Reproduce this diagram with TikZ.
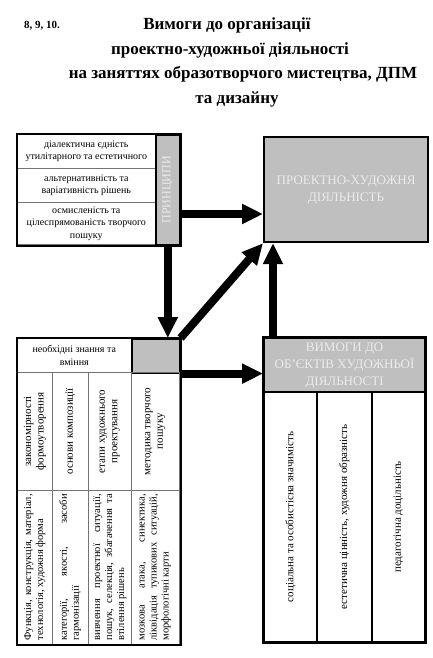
\documentclass[tikz,border=0pt]{standalone}
\usepackage{fontspec}
\setmainfont{Liberation Serif}
\usetikzlibrary{arrows.meta,fit,calc}
\begin{document}
\begin{tikzpicture}[x=1pt,y=-1pt,
  cell/.style={draw=black!55, line width=0.6pt, anchor=north west, inner sep=0pt, align=center, font=\fontsize{10}{12.5}\selectfont},
  graycell/.style={fill=black!25, draw=black, line width=1.6pt, anchor=north west, inner sep=0pt, align=center, text=white!92!black},
  frame/.style={draw=black, line width=2pt, inner sep=0pt},
  vtext/.style={rotate=90, align=center, font=\fontsize{11}{12.5}\selectfont, inner sep=0pt},
  jtext/.style={rotate=90, align=justify, text width=146pt, font=\fontsize{10.5}{12}\selectfont, inner sep=0pt},
  titlefont/.style={font=\bfseries\fontsize{17}{20}\selectfont, inner sep=0pt, anchor=base},
  bigarrow/.style={line width=8pt, -{Triangle[length=21pt,width=19pt]}},
]
\useasboundingbox (0,0) rectangle (433,658);

% title
\node[font=\bfseries\fontsize{11}{13}\selectfont, inner sep=0pt, anchor=base] (num) at (42,29) {8, 9, 10.};
\node[titlefont] (t1) at (227,30) {Вимоги до організації};
\node[titlefont] (t2) at (230,55) {проектно-художньої діяльності};
\node[titlefont] (t3) at (243,79) {на заняттях образотворчого мистецтва, ДПМ};
\node[titlefont] (t4) at (237,103) {та дизайну};

% principles
\node[cell, minimum width=138pt, minimum height=34pt] (p1) at (17,134) {діалектична єдність\\утилітарного та естетичного};
\node[cell, minimum width=138pt, minimum height=34pt] (p2) at (17,168) {альтернативність та\\варіативність рішень};
\node[cell, minimum width=138pt, minimum height=42pt] (p3) at (17,202) {осмисленість та\\цілеспрямованість творчого\\пошуку};
\node[graycell, minimum width=24pt, minimum height=110pt] (pg) at (155,134) {};
\node[rotate=90, text=white!92!black, font=\fontsize{12}{13}\selectfont] (pgt) at (pg.center) {ПРИНЦИПИ};
\node[frame, fit=(p1)(p3)(pg)] (pbox) {};

% project activity
\node[graycell, line width=2.2pt, minimum width=164pt, minimum height=105pt, font=\fontsize{13}{17}\selectfont] (pr) at (263,136) {ПРОЕКТНО-ХУДОЖНЯ\\ДІЯЛЬНІСТЬ};

% knowledge table
\node[cell, minimum width=114pt, minimum height=34pt] (k0) at (17,338) {необхідні знання та\\вміння};
\node[graycell, minimum width=48pt, minimum height=34pt] (kg) at (131,338) {};
\node[cell, minimum width=35pt, minimum height=118pt] (k1a) at (17,372) {};
\node[cell, minimum width=36pt, minimum height=118pt] (k2a) at (52,372) {};
\node[cell, minimum width=43pt, minimum height=118pt] (k3a) at (88,372) {};
\node[cell, minimum width=48pt, minimum height=118pt] (k4a) at (131,372) {};
\node[cell, minimum width=35pt, minimum height=154pt] (k1b) at (17,490) {};
\node[cell, minimum width=36pt, minimum height=154pt] (k2b) at (52,490) {};
\node[cell, minimum width=43pt, minimum height=154pt] (k3b) at (88,490) {};
\node[cell, minimum width=48pt, minimum height=154pt] (k4b) at (131,490) {};
\node[vtext] (k1at) at (k1a.center) {закономірності\\формоутворення};
\node[vtext] (k2at) at (k2a.center) {основи композиції};
\node[vtext] (k3at) at (k3a.center) {етапи художнього\\проектування};
\node[vtext] (k4at) at (k4a.center) {методика творчого\\пошуку};
\node[jtext] (k1bt) at (k1b.center) {Функція, конструкція, матеріал,\linebreak технологія, художня форма};
\node[jtext] (k2bt) at (k2b.center) {категорії, якості, засоби\linebreak гармонізації};
\node[jtext] (k3bt) at (k3b.center) {вивчення проектної ситуації,\linebreak пошук, селекція, збагачення та\linebreak втілення рішень};
\node[jtext] (k4bt) at (k4b.center) {мозкова атака, синектика,\linebreak ліквідація тупикових ситуацій,\linebreak морфологічні карти};
\node[frame, fit=(k0)(kg)(k1b)(k4b)] (kbox) {};

% requirements
\node[graycell, line width=2.2pt, minimum width=161pt, minimum height=54pt, font=\fontsize{13}{17}\selectfont] (rh) at (263,337) {ВИМОГИ ДО\\ОБ’ЄКТІВ ХУДОЖНЬОЇ\\ДІЯЛЬНОСТІ};
\node[cell, draw=black, line width=1.8pt, minimum width=53pt, minimum height=250pt] (r1) at (263,391) {};
\node[cell, draw=black, line width=1.8pt, minimum width=55pt, minimum height=250pt] (r2) at (316,391) {};
\node[cell, draw=black, line width=1.8pt, minimum width=53pt, minimum height=250pt] (r3) at (371,391) {};
\node[vtext] (r1t) at (r1.center) {соціальна та особистісна значимість};
\node[vtext] (r2t) at (r2.center) {естетична цінність, художня образність};
\node[vtext] (r3t) at (r3.center) {педагогічна доцільність};
\node[frame, line width=2.4pt, fit=(rh)(r1)(r3)] (rbox) {};

% arrows
\coordinate (a1) at (179,214);
\draw[bigarrow] (a1) -- (a1 -| pr.west);
\draw[bigarrow] (pg.south) -- (pg.south |- kg.north);
\draw[bigarrow] (kg.north east) -- (pr.south west);
\draw[bigarrow] ([xshift=10pt]rh.north west) -- ([xshift=10pt]pr.south west);
\draw[bigarrow] (kg.south east) -- (kg.south east -| rh.west);
\end{tikzpicture}
\end{document}
